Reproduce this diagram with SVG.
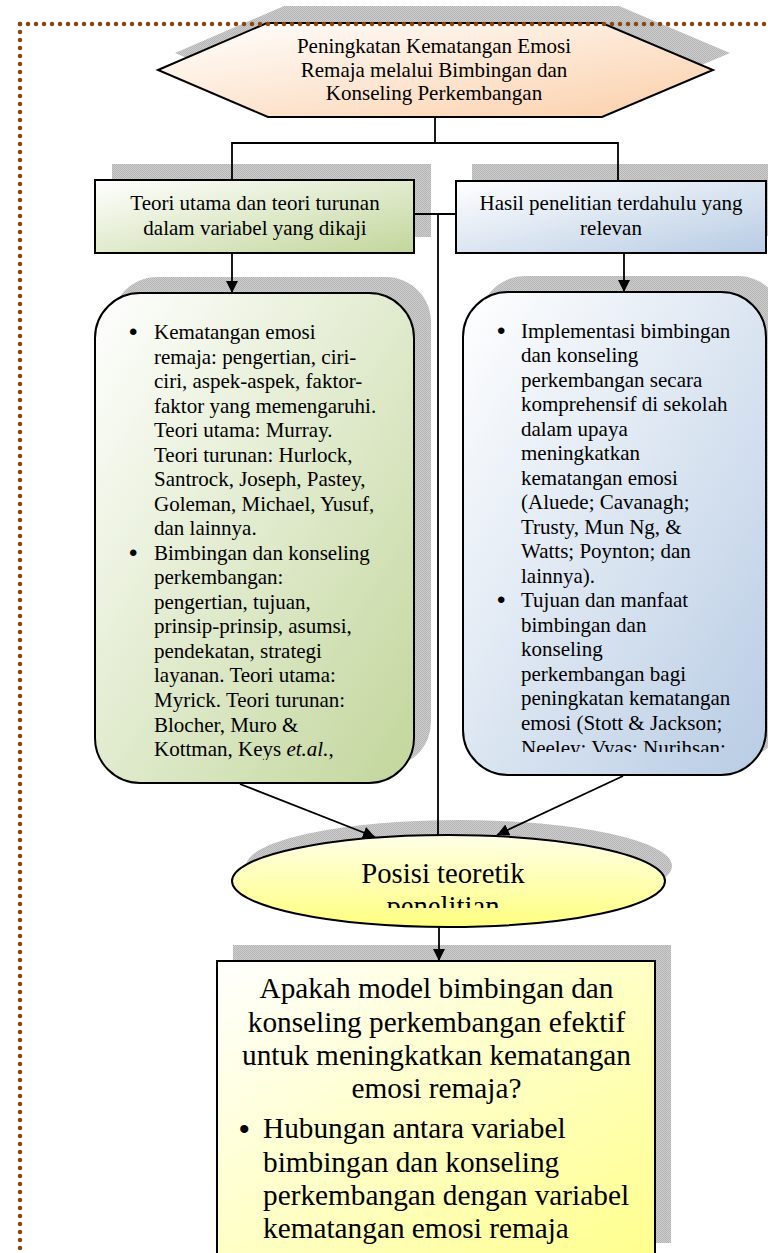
<svg xmlns="http://www.w3.org/2000/svg" width="768" height="1253" viewBox="0 0 768 1253">
<defs>
<pattern id="hatch" width="2" height="2" patternUnits="userSpaceOnUse">
<rect width="2" height="2" fill="#cdcdcd"/>
<rect width="1" height="1" fill="#b5b5b5"/>
<rect x="1" y="1" width="1" height="1" fill="#b5b5b5"/>
</pattern>
<linearGradient id="gPeach" x1="0" y1="0" x2="1" y2="1">
<stop offset="0" stop-color="#ffffff"/><stop offset="1" stop-color="#fbcfa9"/>
</linearGradient>
<linearGradient id="gGreen" x1="0" y1="0" x2="1" y2="1">
<stop offset="0" stop-color="#ffffff"/><stop offset="1" stop-color="#c2d69b"/>
</linearGradient>
<linearGradient id="gBlue" x1="0" y1="0" x2="1" y2="1">
<stop offset="0" stop-color="#ffffff"/><stop offset="1" stop-color="#b8cce4"/>
</linearGradient>
<linearGradient id="gYellowE" x1="0" y1="0" x2="0" y2="1">
<stop offset="0" stop-color="#ffffe8"/><stop offset="1" stop-color="#ffff80"/>
</linearGradient>
<linearGradient id="gYellow" x1="0" y1="0" x2="1" y2="1">
<stop offset="0" stop-color="#ffffff"/><stop offset="1" stop-color="#ffff8c"/>
</linearGradient>
<marker id="arr" viewBox="0 0 12 12" refX="12" refY="6" markerWidth="12" markerHeight="12" markerUnits="userSpaceOnUse" orient="auto">
<path d="M0,0 L12,6 L0,12 z" fill="#000"/>
</marker>
<clipPath id="clipL"><rect x="95" y="293" width="320" height="467"/></clipPath>
<clipPath id="clipR"><rect x="463" y="292" width="303" height="460"/></clipPath>
<clipPath id="clipE"><rect x="230" y="835" width="440" height="73"/></clipPath>
</defs>
<style>
.shadow{fill:url(#hatch);stroke:none}
.node{stroke:#000;stroke-width:2}
text{font-family:"Liberation Serif","Times New Roman",serif;fill:#000}
.t16{font-size:21px}
.t22{font-size:29.3px}
.mid{text-anchor:middle}
.bul{font-family:"Liberation Sans",Arial,sans-serif;font-size:24px}
.bul2{font-family:"Liberation Sans",Arial,sans-serif;font-size:30px}
.conn{fill:none;stroke:#000;stroke-width:1.8}
</style>

<g id="hexagon">
<polygon class="shadow" points="175,53 284,6 619,6 730,53 619,100 285,100"/>
<polygon class="node" fill="url(#gPeach)" points="158,70 267,23 602,23 713,70 602,117 268,117"/>
<text class="t16 mid" x="434" y="53">Peningkatan Kematangan Emosi</text>
<text class="t16 mid" x="434" y="76.5">Remaja melalui Bimbingan dan</text>
<text class="t16 mid" x="434" y="100">Konseling Perkembangan</text>
</g>

<g id="teori">
<rect class="shadow" x="112" y="164" width="319" height="73"/>
<rect class="node" fill="url(#gGreen)" x="95" y="180" width="319" height="73"/>
<text class="t16 mid" x="255" y="210">Teori utama dan teori turunan</text>
<text class="t16 mid" x="255" y="235">dalam variabel yang dikaji</text>
</g>

<g id="hasil">
<rect class="shadow" x="472" y="164" width="320" height="72"/>
<rect class="node" fill="url(#gBlue)" x="456" y="181" width="310" height="72"/>
<text class="t16 mid" x="611" y="210">Hasil penelitian terdahulu yang</text>
<text class="t16 mid" x="611" y="235">relevan</text>
</g>

<g id="kajianTeori">
<rect class="shadow" x="112" y="277" width="319" height="490" rx="45" ry="45"/>
<rect class="node" fill="url(#gGreen)" x="95" y="293" width="319" height="490" rx="45" ry="45"/>
<g clip-path="url(#clipL)" class="t16">
<text class="bul" x="129" y="340">•</text>
<text x="154" y="339">Kematangan emosi</text>
<text x="154" y="363.5">remaja: pengertian, ciri-</text>
<text x="154" y="388">ciri, aspek-aspek, faktor-</text>
<text x="154" y="412.6">faktor yang memengaruhi.</text>
<text x="154" y="437.1">Teori utama: Murray.</text>
<text x="154" y="461.7">Teori turunan: Hurlock,</text>
<text x="154" y="486.2">Santrock, Joseph, Pastey,</text>
<text x="154" y="510.7">Goleman, Michael, Yusuf,</text>
<text x="154" y="535.2">dan lainnya.</text>
<text class="bul" x="129" y="560.8">•</text>
<text x="154" y="559.8">Bimbingan dan konseling</text>
<text x="154" y="584.3">perkembangan:</text>
<text x="154" y="608.8">pengertian, tujuan,</text>
<text x="154" y="633.4">prinsip-prinsip, asumsi,</text>
<text x="154" y="657.9">pendekatan, strategi</text>
<text x="154" y="682.4">layanan. Teori utama:</text>
<text x="154" y="707">Myrick. Teori turunan:</text>
<text x="154" y="731.5">Blocher, Muro &amp;</text>
<text x="154" y="756">Kottman, Keys <tspan font-style="italic">et.al.</tspan>,</text>
</g>
</g>

<g id="kajianPenelitian">
<rect class="shadow" x="480" y="276" width="303" height="483" rx="45" ry="45"/>
<rect class="node" fill="url(#gBlue)" x="463" y="292" width="303" height="483" rx="45" ry="45"/>
<g clip-path="url(#clipR)" class="t16">
<text class="bul" x="497" y="338.5">•</text>
<text x="521" y="337.5">Implementasi bimbingan</text>
<text x="521" y="362">dan konseling</text>
<text x="521" y="386.6">perkembangan secara</text>
<text x="521" y="411.1">komprehensif di sekolah</text>
<text x="521" y="435.6">dalam upaya</text>
<text x="521" y="460.2">meningkatkan</text>
<text x="521" y="484.7">kematangan emosi</text>
<text x="521" y="509.2">(Aluede; Cavanagh;</text>
<text x="521" y="533.7">Trusty, Mun Ng, &amp;</text>
<text x="521" y="558.3">Watts; Poynton; dan</text>
<text x="521" y="582.8">lainnya).</text>
<text class="bul" x="497" y="608.3">•</text>
<text x="521" y="607.3">Tujuan dan manfaat</text>
<text x="521" y="631.9">bimbingan dan</text>
<text x="521" y="656.4">konseling</text>
<text x="521" y="680.9">perkembangan bagi</text>
<text x="521" y="705.4">peningkatan kematangan</text>
<text x="521" y="730">emosi (Stott &amp; Jackson;</text>
<text x="521" y="754.5">Neeley; Vyas; Nurihsan;</text>
</g>
</g>

<g id="posisi">
<ellipse class="shadow" cx="459" cy="866" rx="213" ry="46"/>
<ellipse class="node" fill="url(#gYellowE)" cx="448.5" cy="881" rx="216.5" ry="46"/>
<g clip-path="url(#clipE)">
<text class="mid" font-size="28.7" x="443" y="883">Posisi teoretik</text>
<text class="mid" font-size="28.7" x="443" y="916">penelitian</text>
</g>
</g>

<g id="rumusan">
<rect class="shadow" x="233" y="945" width="438" height="298"/>
<rect class="node" fill="url(#gYellow)" x="217" y="961" width="438" height="300"/>
<text class="t22 mid" x="436.5" y="998">Apakah model bimbingan dan</text>
<text class="t22 mid" x="436.5" y="1031.5">konseling perkembangan efektif</text>
<text class="t22 mid" x="436.5" y="1065">untuk meningkatkan kematangan</text>
<text class="t22 mid" x="436.5" y="1098">emosi remaja?</text>
<text class="bul2" x="239" y="1139">•</text>
<text class="t22" x="263" y="1138">Hubungan antara variabel</text>
<text class="t22" x="263" y="1171.5">bimbingan dan konseling</text>
<text class="t22" x="263" y="1205">perkembangan dengan variabel</text>
<text class="t22" x="263" y="1238">kematangan emosi remaja</text>
</g>

<g id="connectors">
<polyline class="conn" points="435,117 435,143"/>
<polyline class="conn" points="232,181 232,143 618,143 618,181"/>
<line class="conn" x1="232" y1="253" x2="232" y2="293" marker-end="url(#arr)"/>
<line class="conn" x1="624" y1="253" x2="624" y2="292" marker-end="url(#arr)"/>
<polyline class="conn" points="414,214 456,214"/>
<line class="conn" x1="438" y1="214" x2="438" y2="835"/>
<line class="conn" x1="240" y1="784" x2="375" y2="837" marker-end="url(#arr)"/>
<line class="conn" x1="623" y1="776" x2="497" y2="835" marker-end="url(#arr)"/>
<line class="conn" x1="439" y1="927" x2="439" y2="961" marker-end="url(#arr)"/>
</g>

<g id="border">
<line x1="20" y1="24" x2="768" y2="24" stroke="#8b4513" stroke-width="4.5" stroke-linecap="round" stroke-dasharray="0 8"/>
<line x1="20" y1="24" x2="20" y2="1253" stroke="#8b4513" stroke-width="4.5" stroke-linecap="round" stroke-dasharray="0 8"/>
</g>
</svg>
